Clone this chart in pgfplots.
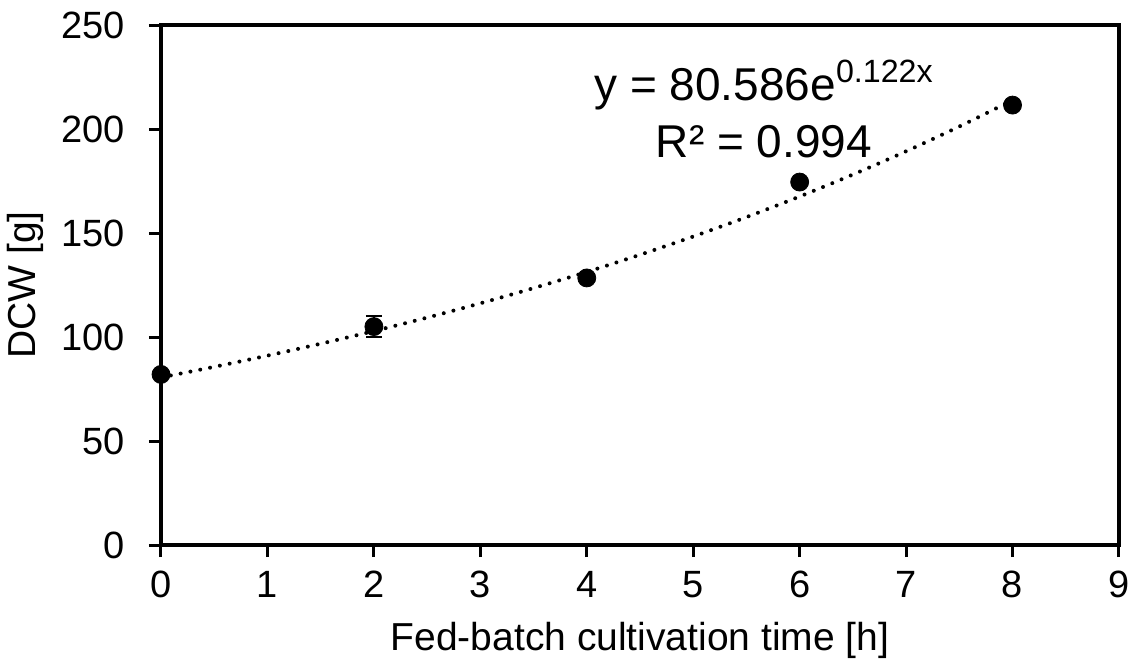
\documentclass[border=0pt]{standalone}
\usepackage{pgfplots}
\pgfplotsset{compat=1.18}
\usepackage{fontspec}
\setmainfont{Liberation Sans}
\begin{document}
\begin{tikzpicture}
\useasboundingbox (-80.5pt,-63pt) rectangle (488.5pt,272.5pt);
\begin{axis}[
  at={(0,0)}, anchor=south west,
  scale only axis, width=479pt, height=260pt,
  xmin=0, xmax=9, ymin=0, ymax=250,
  xtick={0,1,...,9}, ytick={0,50,...,250},
  axis line style={line width=1.6pt},
  tick style={line width=1.5pt, black},
  tick align=outside, major tick length=6pt,
  xtick pos=bottom, ytick pos=left,
  /pgf/number format/assume math mode=true,
  ticklabel style={font=\fontsize{19}{23}\selectfont},
  xticklabel style={yshift=-3.5pt},
  yticklabel style={xshift=-8.5pt},
  label style={font=\fontsize{19.5}{23}\selectfont},
  xlabel={Fed-batch cultivation time [h]},
  ylabel={DCW [g]},
  xlabel style={at={(axis description cs:0.5,-0.202)}, anchor=base},
  ylabel style={at={(axis description cs:-0.1315,0.5)}, anchor=base, rotate=0},
  clip=false,
]
\addplot[black, line width=2pt, dash pattern=on 0pt off 5pt, line cap=round, smooth] coordinates {
(0,80.586) (0.5,85.655) (1,91.043) (1.5,96.769) (2,102.855) (2.5,109.324)
(3,116.200) (3.5,123.509) (4,131.278) (4.5,139.535) (5,148.312) (5.5,157.640)
(6,167.556) (6.5,178.095) (7,189.296) (7.5,201.203) (8,213.858)};
\addplot[black, only marks, mark=*, mark size=4.5pt,
  error bars/.cd, y dir=both, y explicit,
  error bar style={line width=1.2pt, black},
  error mark options={rotate=90, mark size=4pt, line width=1.2pt, black}]
  coordinates {
(0,82) +- (0,1.5)
(2,105) +- (0,5)
(4,128.4) +- (0,1.5)
(6,174.5) +- (0,1.5)
(8,211.5) +- (0,1.5)};
\node[anchor=base, font=\fontsize{23}{27}\selectfont] at (axis cs:5.665,213.5) {y = 80.586e\textsuperscript{0.122x}};
\node[anchor=base, font=\fontsize{23}{27}\selectfont] at (axis cs:5.665,186.5) {R² = 0.994};
\end{axis}
\end{tikzpicture}
\end{document}
